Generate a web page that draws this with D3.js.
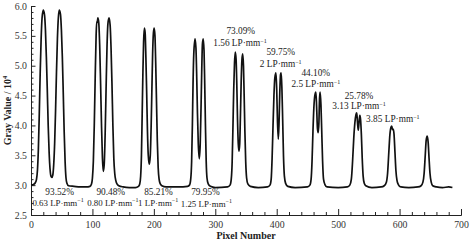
<!DOCTYPE html>
<html><head><meta charset="utf-8">
<script src="https://cdn.jsdelivr.net/npm/d3@7/dist/d3.min.js"></script>
<style>
html,body{margin:0;padding:0;background:#fff;}
svg{display:block;font-family:"Liberation Serif","Times New Roman",serif;}
</style></head>
<body><svg id="c" width="471" height="242"></svg>
<script>
// Profile samples: [pixel number, gray value / 10^4]
const profileX = [
0,4,7,9,10.5,12,13.5,15,16.5,18,20,22,23.5,25,26.5,28,29.5,31,32.5,34,35.5,37,38.5,40,41.5,43,44.5,46,48,49.5,51,52.5,54,55.5,57,58.5,61,70,80,90,
96,98.5,100,101.5,103,104.5,106,107,107.8,108.8,110.3,111.8,113.3,114.8,116.3,117.7,119.2,120.7,122.2,123.7,125.2,127,128.8,130.3,131.8,133.3,134.8,136.3,138,140,143,150,160,170,
175,177,178.5,179.8,181,182.2,183.3,184.5,185.8,187,188.3,189.6,190.9,192.6,194.2,195.5,196.8,198,199.3,200.5,201.8,203,204.3,205.6,207,208.5,210.5,213,220,240,
255,258,260,261.5,262.7,263.8,265,267,268.5,269.8,271,272.3,274,275.5,276.8,278,279,280.3,281.7,282.8,284,285.2,286.5,288.5,292,300,
320,324,326,327.5,328.8,330,331.3,332.6,333.9,335,336.2,337.4,338.6,339.8,341,342.2,343.4,344.6,345.9,347,348.2,349.5,351,353,357,370,
385,389,391,392.5,394,395.5,397,398.8,400,401.3,402.6,403.8,405,406.2,407.3,408.5,409.7,411,412.5,414.5,418,430,
450,454,456,457.5,459,460.5,462,463.8,465,466.3,467.5,468.7,469.7,470.7,472,473.3,474.7,476.2,478.5,482,500,
515,519,521.5,523.5,525.5,527.3,529,530.3,531.5,532.8,534,535.3,536.5,537.8,539.2,540.7,542.5,545,555,
570,575,578.5,580.5,582.5,584.3,586,587.3,588.5,589.7,591,592.5,594,595.8,598,602,615,
630,635,638,640,641.8,643.3,645,646.5,648,649.5,651.5,654,660,670,680,686
];
const profileY = [
3.00,3.01,3.04,3.10,3.25,3.6,4.2,4.9,5.45,5.8,5.93,5.85,5.6,5.15,4.6,4.0,3.55,3.27,3.15,3.13,3.17,3.35,3.7,4.25,4.9,5.45,5.8,5.93,5.86,5.6,5.15,4.55,3.9,3.4,3.12,3.03,2.99,2.98,2.97,2.97,
2.98,3.02,3.12,3.4,4.0,4.8,5.5,5.74,5.72,5.8,5.72,5.35,4.7,4.0,3.45,3.23,3.35,3.85,4.6,5.3,5.7,5.8,5.68,5.3,4.7,4.0,3.45,3.2,3.08,3.02,2.99,2.97,2.96,2.96,
2.98,3.02,3.15,3.5,4.2,4.9,5.4,5.63,5.55,5.15,4.55,3.9,3.5,3.35,3.5,3.95,4.6,5.2,5.55,5.63,5.5,5.05,4.4,3.75,3.3,3.1,3.02,2.99,2.97,2.97,
2.98,3.0,3.1,3.4,4.0,4.7,5.2,5.45,5.3,4.8,4.2,3.7,3.44,3.7,4.3,4.95,5.35,5.45,5.25,4.7,4.0,3.4,3.12,3.02,2.98,2.96,
2.97,3.0,3.1,3.4,4.0,4.6,5.05,5.23,5.1,4.7,4.1,3.7,3.57,3.7,4.2,4.75,5.1,5.2,5.0,4.5,3.9,3.4,3.12,3.02,2.98,2.96,
2.97,3.0,3.1,3.45,4.0,4.5,4.8,4.88,4.6,4.05,3.77,4.05,4.55,4.85,4.88,4.6,4.1,3.5,3.15,3.03,2.98,2.96,
2.97,3.0,3.1,3.4,3.9,4.3,4.5,4.56,4.3,3.95,3.88,4.05,4.45,4.56,4.35,3.9,3.4,3.1,3.01,2.97,2.96,
2.97,3.0,3.1,3.4,3.8,4.05,4.18,4.21,4.05,3.92,4.05,4.17,4.1,3.85,3.45,3.15,3.03,2.99,2.96,
2.97,2.99,3.05,3.2,3.55,3.85,3.97,3.99,3.93,3.94,3.85,3.55,3.25,3.08,3.01,2.97,2.96,
2.97,2.99,3.05,3.2,3.5,3.75,3.82,3.72,3.45,3.2,3.05,2.99,2.97,2.96,2.97,2.96
];
const xTicks = [0,100,200,300,400,500,600,700];
const yTicks = [2.5,3.0,3.5,4.0,4.5,5.0,5.5,6.0];
const pctLabels = ["93.52%","90.48%","85.21%","79.95%","73.09%","59.75%","44.10%","25.78%"];
const lpLabels = ["0.63","0.80","1","1.25","1.56","2","2.5","3.13","3.85"];
// label anchor positions in data coordinates [pixel number, gray value]
const pctX = [46.7,129.9,207.6,284.1,341.5,406.6,463.6,534];
const pctY = [2.843,2.843,2.843,2.83,5.536,5.174,4.828,4.447];
const lpX = [44,133.2,207,285.5,340.2,406.5,463.6,534,589];
const lpY = [2.659,2.659,2.659,2.64,5.33,4.978,4.643,4.27,4.057];

const data = profileX.map((x,i)=>({x, y: profileY[i]}));
const svg = d3.select("#c");
const m = {l:31, r:10, t:6, b:27};
const W = 471, H = 242;
const x = d3.scaleLinear().domain([0,700]).range([m.l, W-m.r]);
const y = d3.scaleLinear().domain([2.5,6.0]).range([H-m.b, m.t]);

const axisColor = "#222";
// x axis
const gx = svg.append("g").attr("transform",`translate(0,${y(2.5)})`);
gx.call(d3.axisBottom(x).tickValues(d3.range(0,701,20)).tickSize(-3).tickFormat(""));
gx.call(g=>g.selectAll(".tick line").filter(d=>d%100===0).attr("y2",-6));
gx.append("g").call(d3.axisBottom(x).tickValues(xTicks).tickSize(0).tickPadding(6).tickFormat(d3.format("d")))
  .call(g=>g.select(".domain").remove());
// y axis
const gy = svg.append("g").attr("transform",`translate(${x(0)},0)`);
gy.call(d3.axisLeft(y).tickValues(d3.range(25,61,1).map(v=>v/10)).tickSize(-2.5).tickFormat(""));
gy.call(g=>g.selectAll(".tick line").filter(d=>Math.round(d*10)%5===0).attr("x2",4.5));
gy.append("g").call(d3.axisLeft(y).tickValues(yTicks).tickSize(0).tickPadding(4).tickFormat(d3.format(".1f")))
  .call(g=>g.select(".domain").remove());
svg.selectAll(".domain").attr("stroke",axisColor);
svg.selectAll(".tick line").attr("stroke",axisColor);
svg.selectAll(".tick text").attr("font-family","Liberation Serif").attr("font-size",9.8).attr("fill","#333");

// axis titles
svg.append("text").attr("x",(x(0)+x(700))/2).attr("y",239).attr("text-anchor","middle")
  .attr("font-weight","bold").attr("font-size",10).attr("fill","#222").text("Pixel Number");
const yt = svg.append("text").attr("transform",`translate(11,${(y(2.5)+y(6))/2}) rotate(-90)`)
  .attr("text-anchor","middle").attr("font-weight","bold").attr("font-size",10).attr("fill","#222");
yt.append("tspan").text("Gray Value / 10");
yt.append("tspan").attr("font-size",6.5).attr("dy",-4).text("4");

// profile line
svg.append("path").datum(data)
  .attr("fill","none").attr("stroke","#111").attr("stroke-width",1.7).attr("stroke-linejoin","round")
  .attr("d", d3.line().x(d=>x(d.x)).y(d=>y(d.y)).curve(d3.curveMonotoneX));

// annotations
const ann = svg.append("g").attr("font-size",9.3).attr("fill","#222").attr("text-anchor","middle");
pctLabels.forEach((p,i)=>{
  ann.append("text").attr("x",x(pctX[i])).attr("y",y(pctY[i])).text(p);
});
lpLabels.forEach((l,i)=>{
  const t = ann.append("text").attr("x",x(lpX[i])).attr("y",y(lpY[i])).attr("font-size", i<4 ? 8.9 : 9.3);
  t.append("tspan").text(l+" LP·mm");
  t.append("tspan").attr("font-size",6).attr("dy",-3.5).text("−1");
});
</script></body></html>
